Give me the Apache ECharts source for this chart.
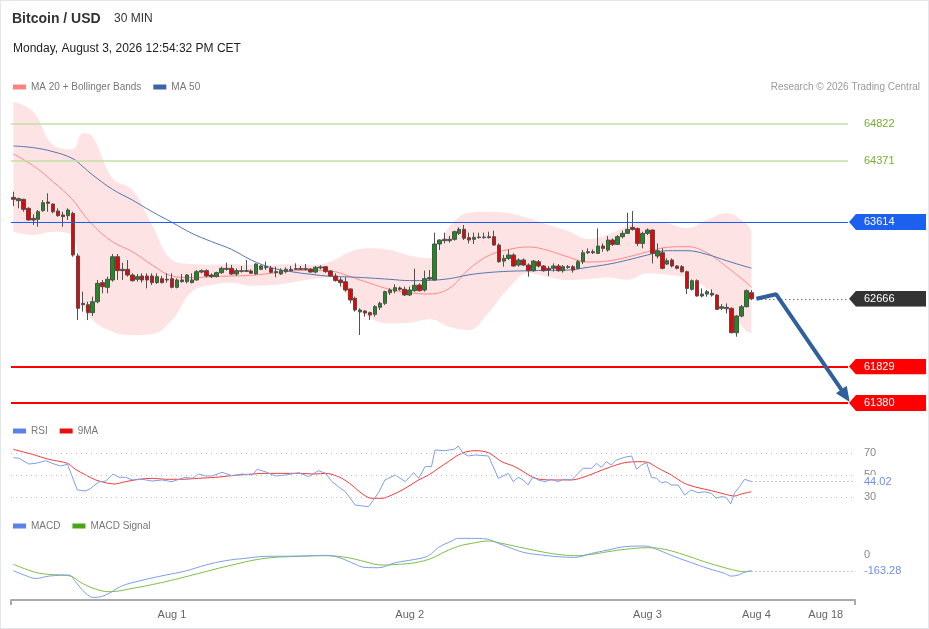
<!DOCTYPE html>
<html><head><meta charset="utf-8">
<script src="https://cdn.jsdelivr.net/npm/echarts@6/dist/echarts.min.js"></script>
<style>
html,body{margin:0;padding:0;background:#fff;}
#wrap{position:absolute;left:0;top:0;width:927px;height:627px;border:1px solid #e3e7ec;background:#fff;}
#chart{width:927px;height:627px;}
</style></head><body>
<div id="wrap"><div id="chart"></div></div>
<script>
// ---------- DATA ----------
// candles: [open, close, low, high], 30-min bars
const candles = [
[63917,63893,63810,63987],[63876,63901,63782,63913],[63893,63769,63740,63900],[63782,63638,63629,63794],[63658,63638,63576,63708],
[63646,63740,63555,63761],[63753,63851,63740,63884],[63860,63843,63740,63967],[63835,63740,63720,63843],[63749,63691,63679,63782],
[63699,63679,63555,63740],[63691,63761,63638,63782],[63720,63206,63185,63740],[63194,62548,62404,63226],[62610,62593,62507,62754],
[62593,62495,62404,62630],[62495,62630,62453,62692],[62630,62856,62610,62898],[62865,62815,62733,62898],[62807,62906,62733,62939],
[62898,63185,62877,63218],[63185,63013,62898,63218],[63029,63013,62898,63111],[63029,62959,62939,63144],[62959,62889,62877,62980],
[62906,62939,62877,62972],[62947,62898,62865,62980],[62947,62898,62795,62980],[62947,62865,62836,62980],[62865,62939,62848,62980],
[62914,62865,62856,62947],[62906,62898,62865,62980],[62914,62807,62795,62980],[62807,62898,62795,62918],[62898,62877,62865,62972],
[62877,62959,62856,62972],[62865,62898,62856,62980],[62898,63000,62889,63021],[62996,63013,62980,63029],[63013,62947,62930,63029],
[62959,62939,62922,62980],[62939,62988,62930,63000],[62988,63041,62972,63062],[63029,63041,63013,63111],[63041,62972,62959,63083],
[62972,63013,62947,63041],[63004,63013,62988,63070],[63004,63013,62996,63144],[63009,62980,62972,63029],[62972,63095,62964,63103],
[63029,63070,63021,63083],[63050,63062,63021,63124],[63042,62992,62980,63070],[63001,62988,62931,63062],[62972,63013,62959,63042],
[63001,63029,62980,63054],[63013,63029,63001,63070],[63029,63038,63021,63103],[63038,63029,63021,63070],[63029,63038,63013,63095],
[63033,62996,62988,63042],[62996,63054,62980,63070],[63046,63058,63029,63079],[63062,63001,62988,63070],[63009,62947,62939,63021],
[62947,62890,62877,62980],[62898,62865,62816,62931],[62877,62774,62754,62931],[62787,62651,62610,62795],[62672,62528,62507,62692],
[62503,62528,62219,62548],[62515,62491,62445,62528],[62495,62466,62404,62507],[62474,62569,62445,62589],[62561,62610,62528,62630],
[62610,62754,62589,62766],[62741,62774,62713,62795],[62762,62803,62733,62844],[62799,62783,62766,62816],[62783,62713,62700,62816],
[62713,62774,62700,62816],[62766,62832,62754,63038],[62836,62766,62754,62857],[62774,62914,62754,63013],[62910,62927,62890,63021],
[62898,63342,62890,63482],[63342,63391,63268,63399],[63399,63383,63350,63482],[63383,63399,63358,63441],[63399,63494,63383,63506],
[63473,63523,63453,63547],[63523,63412,63391,63576],[63420,63391,63350,63482],[63399,63424,63342,63482],[63420,63428,63408,63482],
[63428,63420,63408,63482],[63420,63432,63408,63494],[63432,63329,63321,63506],[63329,63123,63111,63349],[63131,63164,63062,63206],
[63164,63206,63144,63275],[63206,63070,63062,63226],[63082,63144,63062,63164],[63144,63082,63070,63164],[63082,63012,62938,63103],
[63012,63131,63000,63144],[63123,63070,63053,63144],[63070,63012,63000,63082],[63041,63020,62946,63070],[63041,63070,63000,63103],
[63070,63012,63000,63094],[63012,63062,62988,63082],[63053,63062,63037,63082],[63062,63020,62988,63082],[63041,63123,63029,63144],
[63123,63234,63094,63267],[63234,63247,63218,63288],[63247,63234,63218,63275],[63226,63317,63218,63534],[63317,63288,63247,63349],
[63267,63391,63247,63440],[63391,63337,63317,63411],[63337,63432,63329,63452],[63432,63473,63411,63506],[63473,63522,63465,63728],
[63547,63522,63506,63748],[63534,63349,63317,63543],[63349,63473,63288,63493],[63473,63514,63452,63534],[63514,63226,63103,63522],
[63193,63259,63164,63349],[63234,63041,63029,63288],[63094,63136,63082,63164],[63144,63070,63053,63164],[63070,63041,63029,63082],
[63062,63000,62988,63082],[63000,62794,62724,63012],[62782,62889,62766,62905],[62889,62700,62692,62905],[62700,62724,62683,62794],
[62724,62753,62692,62774],[62733,62712,62692,62782],[62712,62535,62527,62724],[62548,62568,62527,62601],[62560,62543,62486,62609],
[62548,62247,62239,62560],[62247,62453,62198,62465],[62453,62568,62437,62589],[62568,62766,62560,62782],[62741,62666,62650,62774]
];
// indicator samples (bar index positions)
const bandIdx = [0,4,8,12,14,16,20,24,28,32,36,40,44,48,52,56,60,64,68,72,76,80,84,88,92,96,100,104,108,112,116,120,124,128,132,136,140,144,148,149];
const ma20 = [64452,64308,64111,63884,63720,63576,63370,63247,63083,62947,62926,62939,62947,62955,62980,63009,63017,63009,62939,62857,62783,62741,62725,62795,63033,63200,63274,63305,63261,63181,63120,63132,63181,63246,63301,63309,63234,63061,62864,62807];
const ma50 = [64551,64530,64481,64394,64296,64193,64016,63884,63740,63609,63474,63371,63276,63144,63050,63001,62968,62943,62935,62922,62906,62890,62894,62914,62962,62990,63005,63012,63017,63021,63054,63091,63144,63206,63259,63259,63214,63135,63061,63045];
const bbUpper = [65097,64974,64563,64509,64707,64666,64152,64008,63576,63144,63095,63087,63095,63083,63087,63091,63083,63124,63247,63288,63268,63198,63165,63556,63728,63740,63720,63659,63576,63502,63403,63456,63564,63617,63597,63535,63638,63720,63588,63493];
const bbLower = [63494,63453,63494,63432,62610,62404,62260,62219,62231,62404,62754,62836,62865,62828,62836,62865,62906,62931,62651,62425,62363,62371,62417,62321,62281,62503,62799,62984,62934,62897,62910,62928,62900,62980,62963,62922,62795,62527,62272,62240];

const rsiX = [0,1.1,3.1,4.5,6.5,8.2,9.5,10.9,12.9,14.6,15.6,17.2,18.6,20.1,21.3,22.6,24,26,28,30,32,33.4,34.7,36.1,37.4,38.8,40.1,42.1,44.1,46.1,48.2,49.2,50.8,52.9,54.9,57.6,59.6,61.6,63,64.3,65.6,67,69,71.7,73.7,75,77.1,79.1,80.8,81.8,83.1,84.4,85.1,87.1,89.1,89.8,90.8,91.8,93.2,95.9,97.9,99.9,100.9,101.9,102.9,103.9,104.9,105.9,107.3,108.6,110,111,112.7,114,115,116.7,117.7,118.7,119.7,120.7,121.7,123.4,124.8,125.8,126.8,127.8,128.8,129.8,130.8,131.8,132.8,134.2,135.5,136.8,138.2,139.5,140.9,141.9,142.9,143.9,144.8,145.6,146.6,147.6,149];
const rsiY = [65.8,65.2,60,60.6,63,60,58.2,59.7,36.4,35.5,37.9,43.6,44.5,50.9,47.9,47.9,45.5,46.1,44.5,45.5,43.9,46.1,47.9,47,50.9,49.1,49.1,52.4,49.4,50.9,50,55.2,53,49.1,50,52.1,48.5,53.9,51.5,43.9,39.4,34.8,22.7,21.2,33.9,45.5,50,43.9,52.1,47,57.6,57.6,72.7,72.1,73.6,76.4,69.7,67.3,68.2,67.3,47,51.5,43.9,47.9,45.5,40.9,48.5,45.5,43.9,46.1,43.9,46.1,45.5,51.5,56.1,56.1,60.6,57,62.1,59.1,63.6,66.1,67.3,55.2,59.1,61.2,47.9,47,43,43.9,40.9,40.9,31.8,36.4,33.9,34.8,33.3,28.8,30.3,29.7,23.6,33.9,39.4,46.1,44.02];
const ma9X = [0,3.8,7.2,10.9,12.5,14.6,16.6,18.6,20.3,22.6,25.3,28,30.7,34,37.4,40.8,44.1,47.5,50.8,54.2,57.6,60.9,63,64.3,66.3,68.3,70.3,72.3,74.4,76.4,79.1,81.8,83.8,85.8,87.8,89.8,91.5,93.2,95.9,98.6,101.2,103.3,105.3,108.6,112.7,115.4,118,120.7,123.4,126.1,127.8,130.2,132.8,135.5,138.2,140.9,143.5,145.6,146.9,149];
const ma9Y = [73.3,68.8,64.2,60.6,55.2,50,45.5,43,41.8,43.9,46.1,47,46.1,46.1,47,47.9,49.4,50.6,51.5,51.5,51.5,50.9,51.5,50.6,47,40.9,33.3,28.8,28.8,31.8,37.9,45.5,50,56.1,62.1,68.2,71.2,72.1,70.3,62.1,57.6,52.1,47,45.5,45.5,48.5,53,57.6,61.2,62.1,61.8,56.1,50,42.4,38.5,35.8,32.7,30.9,32.7,34.8];
const rsiLevels = [70, 50, 30];

const macdX = [0,2.5,4.5,7.2,11.2,12.5,14.6,16.2,18.6,21.9,25.3,30.7,34.7,38.8,42.8,46.8,50.8,57.6,63,65.6,68.3,71,73.7,77.1,81.1,83.8,85.8,88.5,89.8,92.5,95.5,97.9,100.6,103.3,106.6,110,113.3,116.7,120,123.4,127.5,130.2,133.5,136.9,140.2,143.6,144.9,146.3,147.6,149];
const macdY = [-163,-213,-241,-217,-207,-274,-393,-434,-410,-318,-268,-207,-166,-105,-61,-37,-17,-14,-7,-27,-81,-129,-132,-81,-47,-10,74,139,166,166,159,115,64,20,-3,-20,-27,13,47,81,88,47,-20,-81,-139,-190,-217,-207,-180,-163.28];
const sigX = [0,4.5,7.2,11.2,13.9,16.6,19.3,24,30.7,37.4,44.1,50.8,57.6,63,67.6,71,74.4,77.7,81.1,84.4,87.1,89.8,92.5,95.9,98.6,103.3,106.6,110,113.3,116.7,120,123.4,128.1,131.5,135.5,139.5,143.6,146.3,147.6,149];
const sigY = [-98,-180,-200,-213,-291,-349,-376,-342,-274,-190,-105,-37,-17,-10,-31,-71,-105,-98,-81,-37,30,85,115,139,115,64,30,3,-10,3,30,54,71,54,-3,-71,-132,-166,-173,-163.28];

// key levels
const resistLevels = [64822, 64371];
const pivotLevel = 63614;
const lastPrice = 62666;
const supportLevels = [61829, 61380];
// forecast path
const fcX = [150, 154, 168];
const fcY = [62666, 62721, 61470];

// time axis labels
const xLabelIdx = [32, 80, 128, 150, 164];
const xLabels = ['Aug 1', 'Aug 2', 'Aug 3', 'Aug 4', 'Aug 18'];

// ---------- CHART ----------
const FONT = '"Liberation Sans", Arial, Helvetica, sans-serif';
const NCAT = 169;
const cats = Array.from({length: NCAT}, (_, i) => String(i));
const pair = (xs, ys) => xs.map((x, i) => [x, ys[i]]);

function boxBg(color) {
  const svg = '<svg xmlns="http://www.w3.org/2000/svg" width="77" height="16" viewBox="0 0 77 16" preserveAspectRatio="none"><path d="M0 8 L7 0 H77 V16 H7 Z" fill="' + color + '"/></svg>';
  return { image: 'data:image/svg+xml;charset=utf-8,' + encodeURIComponent(svg) };
}
function boxLabel(color, text) {
  return { show: true, position: 'end', distance: 1, formatter: String(text), color: '#fff',
    fontSize: 11, fontFamily: FONT, backgroundColor: boxBg(color),
    padding: [2, 0, 1, 15], width: 62, lineHeight: 13 };
}
function plainLabel(color, text, bg) {
  const l = { show: true, position: 'end', distance: 9, formatter: String(text), color: color,
    fontSize: 11, fontFamily: FONT };
  if (bg) { l.backgroundColor = '#fff'; l.padding = [1, 2, 1, 0]; }
  return l;
}

const levelLines = [];
resistLevels.forEach(v => levelLines.push({ yAxis: v, lineStyle: { color: '#c3e0a3', width: 1.5, type: 'solid' },
  label: { show: true, position: 'end', distance: 1, formatter: String(v), color: '#76ad34', fontSize: 11, fontFamily: FONT, padding: [0, 0, 0, 15] } }));
levelLines.push({ yAxis: pivotLevel, lineStyle: { color: '#1b5cf5', width: 1.2, type: 'solid' }, label: boxLabel('#1c60f0', pivotLevel) });
levelLines.push([{ coord: [151, lastPrice], lineStyle: { color: '#333', width: 1, type: [1, 3] }, label: boxLabel('#333333', lastPrice) },
                 { coord: [NCAT - 0.5, lastPrice] }]);
supportLevels.forEach(v => levelLines.push({ yAxis: v, lineStyle: { color: '#ff0000', width: 2, type: 'solid' }, label: boxLabel('#ff0000', v) }));

const fcData = pair(fcX, fcY).map((p, i) => i === fcX.length - 1
  ? { value: p, symbol: 'triangle', symbolSize: [13, 15], symbolRotate: -146, itemStyle: { color: '#30609c' } }
  : p);

const BX_MAX = 169.9;
const rsiLast = rsiY[rsiY.length - 1];
const macdLast = macdY[macdY.length - 1];

const option = {
  animation: false,
  backgroundColor: '#fff',
  textStyle: { fontFamily: FONT },
  title: [
    { text: 'Bitcoin / USD', left: 11, top: 11, padding: 0, textStyle: { fontSize: 14, fontWeight: 'bold', color: '#333', fontFamily: FONT } },
    { text: '30 MIN', left: 113, top: 12, padding: 0, textStyle: { fontSize: 12, fontWeight: 'normal', color: '#333', fontFamily: FONT } },
    { text: 'Monday, August 3, 2026 12:54:32 PM CET', left: 12, top: 42, padding: 0, textStyle: { fontSize: 12, fontWeight: 'normal', color: '#222', fontFamily: FONT } },
    { text: 'Research © 2026 Trading Central', right: 8, top: 81, padding: 0, textStyle: { fontSize: 10, fontWeight: 'normal', color: '#9a9a9a', fontFamily: FONT } }
  ],
  legend: [
    { left: 12, top: 81, padding: 0, itemWidth: 13, itemHeight: 5, itemGap: 12, icon: 'rect', selectedMode: false,
      data: ['MA 20 + Bollinger Bands', 'MA 50'], textStyle: { color: '#777', fontSize: 10, fontFamily: FONT } },
    { left: 12, top: 425, padding: 0, itemWidth: 13, itemHeight: 5, itemGap: 12, icon: 'rect', selectedMode: false,
      data: ['RSI', '9MA'], textStyle: { color: '#777', fontSize: 10, fontFamily: FONT } },
    { left: 12, top: 520, padding: 0, itemWidth: 13, itemHeight: 5, itemGap: 12, icon: 'rect', selectedMode: false,
      data: ['MACD', 'MACD Signal'], textStyle: { color: '#777', fontSize: 10, fontFamily: FONT } }
  ],
  grid: [
    { left: 10, right: 80, top: 97, height: 320 },
    { left: 10, right: 73, top: 441, height: 66 },
    { left: 10, right: 73, top: 534, height: 65 }
  ],
  xAxis: [
    { type: 'category', gridIndex: 0, data: cats, show: false, boundaryGap: true },
    { type: 'value', gridIndex: 0, min: -0.5, max: NCAT - 0.5, show: false },
    { type: 'value', gridIndex: 1, min: -0.5, max: BX_MAX, show: false },
    { type: 'value', gridIndex: 2, min: -0.5, max: BX_MAX, position: 'bottom',
      splitLine: { show: false },
      axisLine: { show: true, onZero: false, lineStyle: { color: '#aaaaaa', width: 2 } },
      axisTick: { show: true, customValues: [-0.5, BX_MAX], length: 5, lineStyle: { color: '#aaaaaa', width: 2 } },
      axisLabel: { show: true, customValues: xLabelIdx, formatter: v => { const k = xLabelIdx.indexOf(v); return k >= 0 ? xLabels[k] : ''; },
        color: '#666', fontSize: 11, margin: 9, fontFamily: FONT } }
  ],
  yAxis: [
    { type: 'value', gridIndex: 0, min: 61195, max: 65143, show: false },
    { type: 'value', gridIndex: 1, min: 20, max: 80, show: false },
    { type: 'value', gridIndex: 2, min: -460, max: 200, show: false }
  ],
  series: [
    { type: 'line', name: 'bbLow', xAxisIndex: 0, yAxisIndex: 0, data: pair(bandIdx, bbLower), stack: 'bb', smooth: 0.4,
      symbol: 'none', showSymbol: false, lineStyle: { width: 0, opacity: 0 }, silent: true, z: 1 },
    { type: 'line', name: 'bbRange', xAxisIndex: 0, yAxisIndex: 0, data: bandIdx.map((x, i) => [x, bbUpper[i] - bbLower[i]]), stack: 'bb', smooth: 0.4,
      symbol: 'none', showSymbol: false, lineStyle: { width: 0, opacity: 0 }, areaStyle: { color: '#fde3e3', opacity: 1 }, silent: true, z: 1 },
    { type: 'line', name: 'MA 20 + Bollinger Bands', xAxisIndex: 1, yAxisIndex: 0, data: pair(bandIdx, ma20), smooth: 0.4,
      symbol: 'none', color: '#ff8080', lineStyle: { width: 1, color: '#ff8a8a' }, z: 2 },
    { type: 'line', name: 'MA 50', xAxisIndex: 1, yAxisIndex: 0, data: pair(bandIdx, ma50), smooth: 0.4,
      symbol: 'none', color: '#3a64a8', lineStyle: { width: 1, color: '#5577b0' }, z: 2 },
    { type: 'candlestick', name: 'price', xAxisIndex: 0, yAxisIndex: 0, data: candles, barWidth: 4, z: 3,
      itemStyle: { color: '#1f8a1f', color0: '#f00000', borderColor: '#505050', borderColor0: '#505050', borderWidth: 1 } },
    { type: 'line', name: 'forecast', xAxisIndex: 1, yAxisIndex: 0, data: fcData, clip: false, symbol: 'none', showSymbol: true,
      lineStyle: { color: '#30609c', width: 4 }, itemStyle: { color: '#30609c' }, z: 6,
      markLine: { silent: true, symbol: ['none', 'none'], animation: false, data: levelLines } },
    { type: 'line', name: 'RSI', xAxisIndex: 2, yAxisIndex: 1, data: pair(rsiX, rsiY), symbol: 'none',
      color: '#5b82e6', lineStyle: { width: 1, color: '#7f9ee8' }, z: 3,
      markLine: { silent: true, symbol: ['none', 'none'], animation: false,
        data: rsiLevels.map(v => ({ yAxis: v, lineStyle: { color: '#bdbdbd', width: 1, type: [1, 4] }, label: plainLabel('#888', v) }))
          .concat([[{ coord: [149, rsiLast], lineStyle: { color: '#6b8fe8', width: 1, type: [1, 3] }, label: plainLabel('#6b8fe8', rsiLast.toFixed(2), true) },
                    { coord: [BX_MAX, rsiLast] }]]) } },
    { type: 'line', name: '9MA', xAxisIndex: 2, yAxisIndex: 1, data: pair(ma9X, ma9Y), symbol: 'none', smooth: 0.3,
      color: '#e81010', lineStyle: { width: 1, color: '#f03a3a' }, z: 2 },
    { type: 'line', name: 'MACD', xAxisIndex: 3, yAxisIndex: 2, data: pair(macdX, macdY), symbol: 'none', smooth: 0.4,
      color: '#5b82e6', lineStyle: { width: 1, color: '#7f9ee8' }, z: 3,
      markLine: { silent: true, symbol: ['none', 'none'], animation: false,
        data: [{ yAxis: 0, lineStyle: { color: 'rgba(0,0,0,0)', width: 1 }, label: plainLabel('#888', 0) },
               [{ coord: [149, macdLast], lineStyle: { color: '#6b8fe8', width: 1, type: [1, 3] }, label: plainLabel('#6b8fe8', macdLast.toFixed(2)) },
                { coord: [BX_MAX, macdLast] }]] } },
    { type: 'line', name: 'MACD Signal', xAxisIndex: 3, yAxisIndex: 2, data: pair(sigX, sigY), symbol: 'none', smooth: 0.4,
      color: '#4aa51a', lineStyle: { width: 1, color: '#7cbf45' }, z: 2 }
  ]
};
const chart = echarts.init(document.getElementById('chart'), null, { renderer: 'canvas' });
chart.setOption(option);
</script>
</body></html>
